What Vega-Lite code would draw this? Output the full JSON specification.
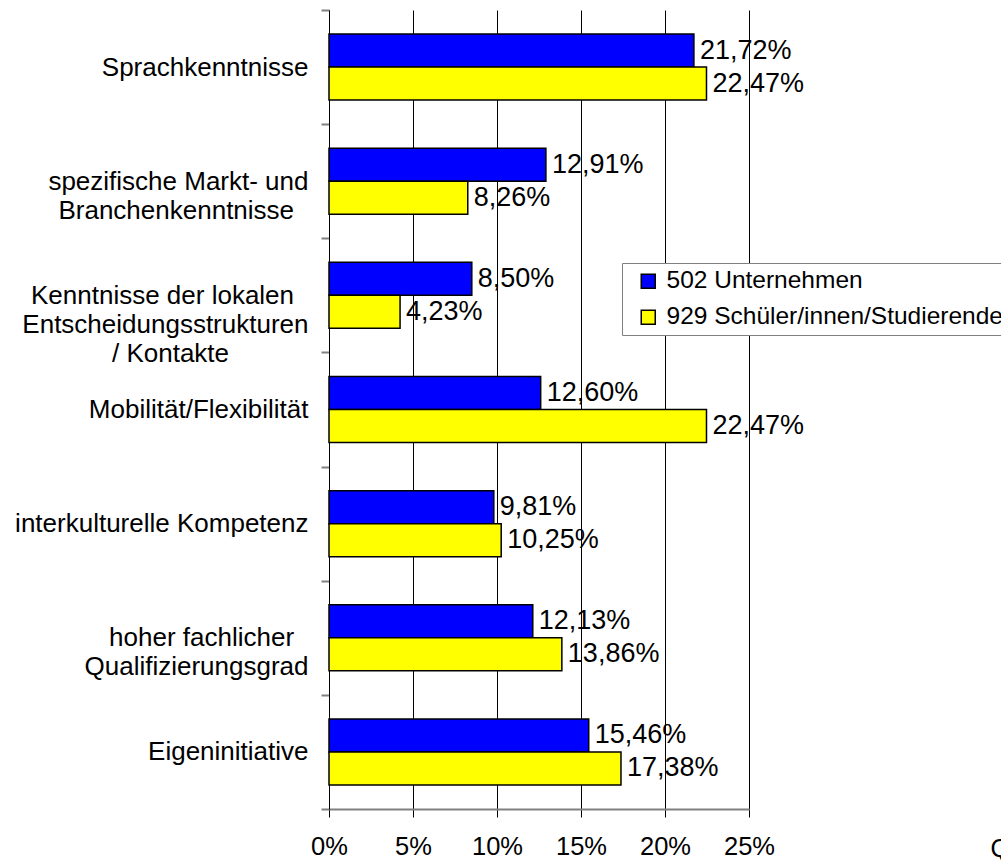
{
  "$schema": "https://vega.github.io/schema/vega-lite/v6.json",
  "autosize": {"type": "none"},
  "width": 420,
  "height": 799,
  "padding": {"left": 329, "top": 10, "right": 252, "bottom": 52},
  "background": "white",
  "config": {
    "font": "Liberation Sans",
    "view": {"stroke": null}
  },
  "data": {
    "values": [
      {"cat": "Sprachkenntnisse", "group": "502 Unternehmen", "value": 21.72, "label": "21,72%"},
      {"cat": "Sprachkenntnisse", "group": "929 Schüler/innen/Studierende", "value": 22.47, "label": "22,47%"},
      {"cat": "spezifische Markt- und|Branchenkenntnisse", "group": "502 Unternehmen", "value": 12.91, "label": "12,91%"},
      {"cat": "spezifische Markt- und|Branchenkenntnisse", "group": "929 Schüler/innen/Studierende", "value": 8.26, "label": "8,26%"},
      {"cat": "Kenntnisse der lokalen|Entscheidungsstrukturen|/ Kontakte", "group": "502 Unternehmen", "value": 8.50, "label": "8,50%"},
      {"cat": "Kenntnisse der lokalen|Entscheidungsstrukturen|/ Kontakte", "group": "929 Schüler/innen/Studierende", "value": 4.23, "label": "4,23%"},
      {"cat": "Mobilität/Flexibilität", "group": "502 Unternehmen", "value": 12.60, "label": "12,60%"},
      {"cat": "Mobilität/Flexibilität", "group": "929 Schüler/innen/Studierende", "value": 22.47, "label": "22,47%"},
      {"cat": "interkulturelle Kompetenz", "group": "502 Unternehmen", "value": 9.81, "label": "9,81%"},
      {"cat": "interkulturelle Kompetenz", "group": "929 Schüler/innen/Studierende", "value": 10.25, "label": "10,25%"},
      {"cat": "hoher fachlicher|Qualifizierungsgrad", "group": "502 Unternehmen", "value": 12.13, "label": "12,13%"},
      {"cat": "hoher fachlicher|Qualifizierungsgrad", "group": "929 Schüler/innen/Studierende", "value": 13.86, "label": "13,86%"},
      {"cat": "Eigeninitiative", "group": "502 Unternehmen", "value": 15.46, "label": "15,46%"},
      {"cat": "Eigeninitiative", "group": "929 Schüler/innen/Studierende", "value": 17.38, "label": "17,38%"}
    ]
  },
  "encoding": {
    "y": {
      "field": "cat",
      "type": "nominal",
      "sort": null,
      "scale": {"paddingInner": 0, "paddingOuter": 0},
      "axis": {
        "title": null,
        "labelExpr": "split(replace(replace(replace(replace(datum.label, 'lokalen|', 'lokalen\u00a0\u00a0\u200b|'), 'Branchenkenntnisse', 'Branchenkenntnisse\u00a0\u00a0\u200b'), 'fachlicher|', 'fachlicher\u00a0\u00a0\u200b|'), '/ Kontakte', '/ Kontakte\u00a0\u00a0\u00a0\u00a0\u00a0\u00a0\u00a0\u00a0\u00a0\u00a0\u00a0\u200b'), '|')",
        "labelFontSize": 26,
        "labelColor": "black",
        "labelLineHeight": 29,
        "labelBaseline": "middle",
        "labelAlign": "right",
        "labelLimit": 400,
        "labelPadding": 13,
        "tickBand": "extent",
        "tickColor": "#808080",
        "tickWidth": 2,
        "tickSize": 8,
        "domainColor": "black",
        "domainWidth": 1,
        "grid": false
      }
    },
    "yOffset": {
      "field": "group",
      "type": "nominal",
      "sort": ["502 Unternehmen", "929 Schüler/innen/Studierende"],
      "scale": {"paddingInner": 0, "paddingOuter": 0.73}
    },
    "x": {
      "field": "value",
      "type": "quantitative",
      "scale": {"domain": [0, 25], "nice": false},
      "axis": {
        "values": [0, 5, 10, 15, 20, 25],
        "labelExpr": "datum.value + '%'",
        "labelFontSize": 25.5,
        "labelColor": "black",
        "labelPadding": 17,
        "labelFlush": false,
        "labelOverlap": false,
        "tickColor": "black",
        "tickSize": 8,
        "tickWidth": 1,
        "grid": true,
        "gridColor": "black",
        "gridWidth": 1,
        "gridOpacity": 1,
        "domainColor": "#808080",
        "domainWidth": 2,
        "title": "Quelle",
        "titleFontSize": 25.5,
        "titleFontWeight": "normal",
        "titleColor": "black",
        "titleX": 661,
        "titleY": 47,
        "titleAlign": "left",
        "titleBaseline": "alphabetic"
      }
    }
  },
  "layer": [
    {
      "mark": {"type": "bar", "stroke": "black", "strokeWidth": 1.5},
      "encoding": {
        "color": {
          "field": "group",
          "type": "nominal",
          "scale": {"domain": ["502 Unternehmen", "929 Schüler/innen/Studierende"], "range": ["#0000FF", "#FFFF00"]},
          "legend": {
            "title": null,
            "orient": "none",
            "legendX": 293,
            "legendY": 253,
            "fillColor": "white",
            "strokeColor": "#808080",
            "padding": 6,
            "symbolType": "square",
            "symbolSize": 196,
            "symbolStrokeColor": "black",
            "symbolStrokeWidth": 1.5,
            "symbolOpacity": 1,
            "symbolOffset": 8,
            "labelOffset": 6,
            "labelFontSize": 24.5,
            "labelColor": "black",
            "labelLimit": 600,
            "rowPadding": 11
          }
        }
      }
    },
    {
      "mark": {"type": "text", "align": "left", "baseline": "middle", "dx": 6, "fontSize": 27, "color": "black"},
      "encoding": {
        "text": {"field": "label"}
      }
    }
  ]
}
